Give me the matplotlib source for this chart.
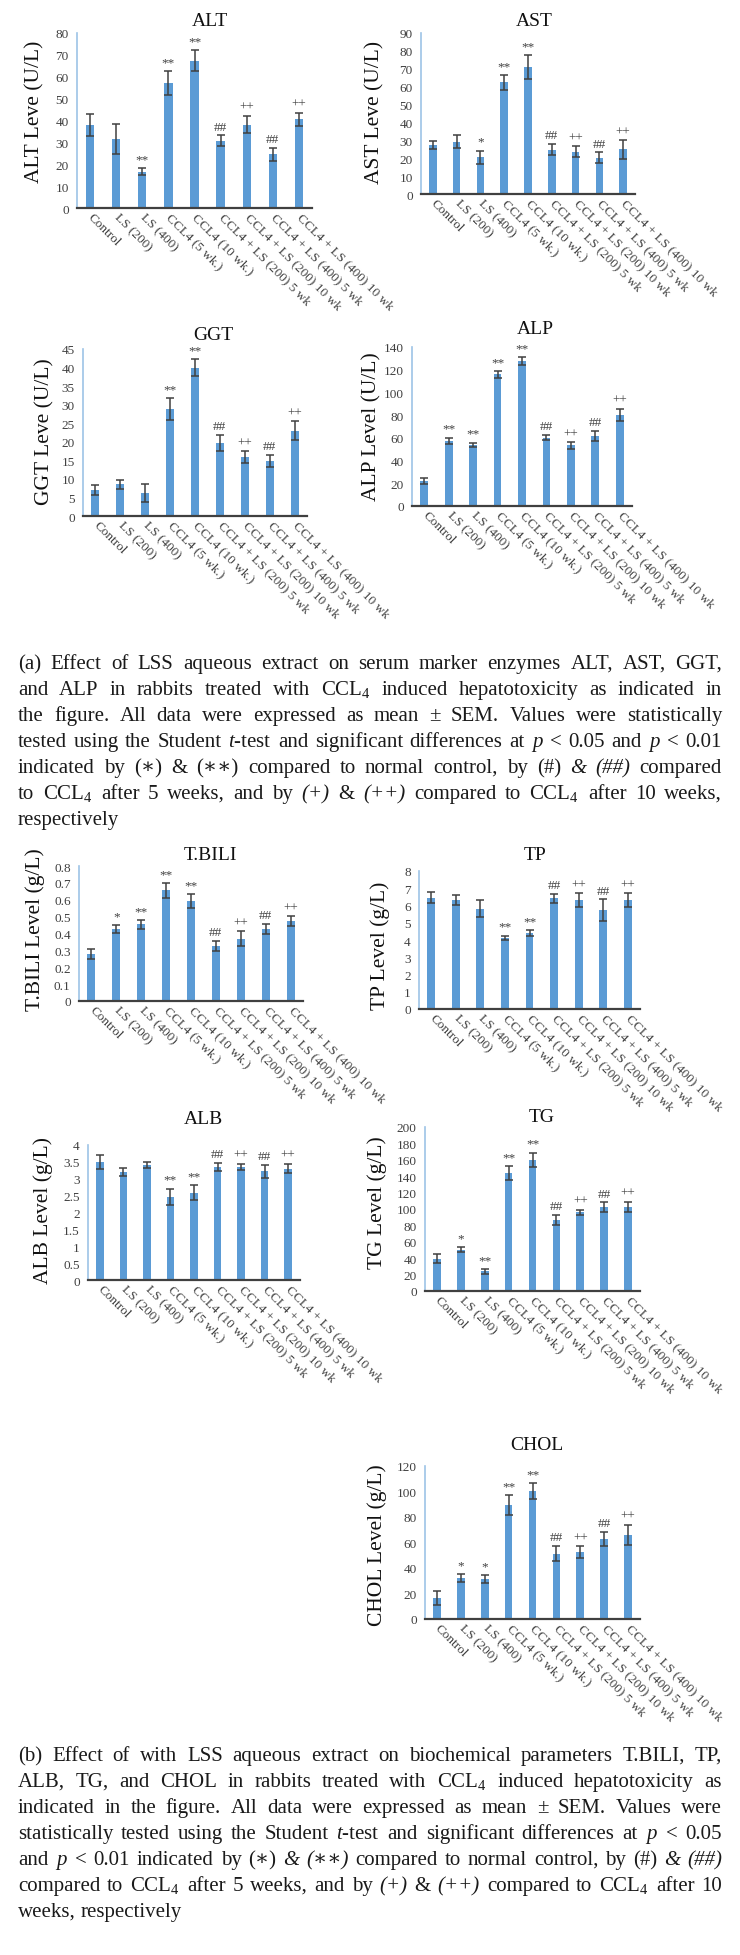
import matplotlib
matplotlib.use("Agg")
import matplotlib.pyplot as plt

plt.rcParams['font.family'] = ['Liberation Serif', 'DejaVu Serif']
plt.rcParams['mathtext.fontset'] = 'custom'
plt.rcParams['mathtext.rm'] = 'Liberation Serif'
plt.rcParams['mathtext.it'] = 'Liberation Serif:italic'

W, H = 740, 1956

# ---------------- data ----------------
groups = ["Control", "LS (200)", "LS (400)", "CCL4 (5 wk.)", "CCL4 (10 wk.)",
          "CCL4 + LS (200) 5 wk", "CCL4 + LS (200) 10 wk",
          "CCL4 + LS (400) 5 wk", "CCL4 + LS (400) 10 wk"]

alt_mean = [38.1, 31.7, 16.6, 57.0, 67.4, 30.8, 38.1, 24.5, 40.5]
alt_sem = [5.0, 6.8, 1.6, 5.5, 4.7, 2.4, 4.0, 3.0, 3.0]
alt_sig = ["", "", "**", "**", "**", "##", "++", "##", "++"]
alt_ticks = [0, 10, 20, 30, 40, 50, 60, 70, 80]

ast_mean = [27.4, 29.3, 20.5, 62.4, 70.8, 24.8, 23.7, 20.2, 25.0]
ast_sem = [2.0, 3.5, 3.8, 4.3, 6.7, 3.2, 3.0, 3.1, 5.2]
ast_sig = ["", "", "*", "**", "**", "##", "++", "##", "++"]
ast_ticks = [0, 10, 20, 30, 40, 50, 60, 70, 80, 90]

ggt_mean = [7.0, 8.6, 6.3, 28.9, 40.0, 19.7, 15.8, 14.8, 23.0]
ggt_sem = [1.3, 1.2, 2.4, 2.9, 2.3, 2.1, 1.6, 1.7, 2.6]
ggt_sig = ["", "", "", "**", "**", "##", "++", "##", "++"]
ggt_ticks = [0, 5, 10, 15, 20, 25, 30, 35, 40, 45]

alp_mean = [21.7, 57.4, 53.9, 116.0, 127.7, 60.3, 53.3, 61.8, 80.3]
alp_sem = [2.6, 2.9, 2.0, 3.0, 3.8, 2.6, 3.0, 4.4, 5.2]
alp_sig = ["", "**", "**", "**", "**", "##", "++", "##", "++"]
alp_ticks = [0, 20, 40, 60, 80, 100, 120, 140]

tbili_mean = [0.28, 0.425, 0.454, 0.656, 0.593, 0.326, 0.369, 0.429, 0.474]
tbili_sem = [0.03, 0.024, 0.028, 0.043, 0.041, 0.028, 0.044, 0.03, 0.028]
tbili_sig = ["", "*", "**", "**", "**", "##", "++", "##", "++"]
tbili_ticks = [0, 0.1, 0.2, 0.3, 0.4, 0.5, 0.6, 0.7, 0.8]

tp_mean = [6.45, 6.34, 5.81, 4.13, 4.42, 6.43, 6.32, 5.72, 6.32]
tp_sem = [0.33, 0.29, 0.49, 0.13, 0.17, 0.26, 0.39, 0.64, 0.39]
tp_sig = ["", "", "", "**", "**", "##", "++", "##", "++"]
tp_ticks = [0, 1, 2, 3, 4, 5, 6, 7, 8]

alb_mean = [3.5, 3.2, 3.41, 2.46, 2.59, 3.35, 3.35, 3.22, 3.30]
alb_sem = [0.2, 0.13, 0.1, 0.25, 0.22, 0.13, 0.1, 0.2, 0.14]
alb_sig = ["", "", "", "**", "**", "##", "++", "##", "++"]
alb_ticks = [0, 0.5, 1, 1.5, 2, 2.5, 3, 3.5, 4]

tg_mean = [39.3, 50.6, 23.9, 143.8, 160.0, 87.1, 96.0, 102.5, 102.5]
tg_sem = [5.3, 2.9, 3.2, 8.1, 8.9, 6.1, 3.2, 5.6, 6.5]
tg_sig = ["", "*", "**", "**", "**", "##", "++", "##", "++"]
tg_ticks = [0, 20, 40, 60, 80, 100, 120, 140, 160, 180, 200]

chol_mean = [16.2, 32.2, 31.4, 89.1, 100.3, 51.3, 52.4, 62.9, 65.8]
chol_sem = [5.5, 3.2, 3.4, 7.8, 6.3, 5.8, 4.7, 5.7, 8.1]
chol_sig = ["", "*", "*", "**", "**", "##", "++", "##", "++"]
chol_ticks = [0, 20, 40, 60, 80, 100, 120]

titles = ["ALT", "AST", "GGT", "ALP", "T.BILI", "TP", "ALB", "TG", "CHOL"]
ylabels = ["ALT Leve (U/L)", "AST Leve (U/L)", "GGT Leve (U/L)", "ALP Level (U/L)",
           "T.BILI Level (g/L)", "TP Level (g/L)", "ALB Level (g/L)",
           "TG Level (g/L)", "CHOL Level (g/L)"]

caption_a = [
    "(a) Effect of LSS aqueous extract on serum marker enzymes ALT, AST, GGT,",
    "and ALP in rabbits treated with CCL$_4$ induced hepatotoxicity as indicated in",
    "the figure. All data were expressed as mean ± SEM. Values were statistically",
    "tested using the Student $t$-test and significant differences at $p$ < 0.05 and $p$ < 0.01",
    "indicated by (∗) & (∗∗) compared to normal control, by (#) {&} {(##)} compared",
    "to CCL$_4$ after 5 weeks, and by {(+)} & {(++)} compared to CCL$_4$ after 10 weeks,",
    "respectively",
]
caption_b = [
    "(b) Effect of with LSS aqueous extract on biochemical parameters T.BILI, TP,",
    "ALB, TG, and CHOL in rabbits treated with CCL$_4$ induced hepatotoxicity as",
    "indicated in the figure. All data were expressed as mean ± SEM. Values were",
    "statistically tested using the Student $t$-test and significant differences at $p$ < 0.05",
    "and $p$ < 0.01 indicated by (∗) {&} {(∗∗)} compared to normal control, by (#) {&} {(##)}",
    "compared to CCL$_4$ after 5 weeks, and by {(+)} & {(++)} compared to CCL$_4$ after 10",
    "weeks, respectively",
]

# ---------------- layout (pixels) ----------------
layout = [
    # box (left, top, right, bottom), title centre, ylabel centre
    dict(box=(77, 34, 312, 209), tpos=(210, 22), ypos=(35, 112)),
    dict(box=(421, 34, 635, 195), tpos=(534, 22), ypos=(375, 112)),
    dict(box=(83, 350, 307, 517), tpos=(213, 335), ypos=(45, 432)),
    dict(box=(412, 348, 632, 507), tpos=(535, 329), ypos=(372, 427)),
    dict(box=(79, 867, 303, 1002), tpos=(210, 855), ypos=(35, 930)),
    dict(box=(419, 872, 640, 1010), tpos=(535, 855), ypos=(380, 946)),
    dict(box=(88, 1146, 300, 1281), tpos=(203, 1120), ypos=(43, 1211)),
    dict(box=(425, 1128, 640, 1292), tpos=(542, 1118), ypos=(377, 1203)),
    dict(box=(425, 1467, 640, 1620), tpos=(537, 1445), ypos=(377, 1545)),
]

series = [
    (alt_mean, alt_sem, alt_sig, alt_ticks),
    (ast_mean, ast_sem, ast_sig, ast_ticks),
    (ggt_mean, ggt_sem, ggt_sig, ggt_ticks),
    (alp_mean, alp_sem, alp_sig, alp_ticks),
    (tbili_mean, tbili_sem, tbili_sig, tbili_ticks),
    (tp_mean, tp_sem, tp_sig, tp_ticks),
    (alb_mean, alb_sem, alb_sig, alb_ticks),
    (tg_mean, tg_sem, tg_sig, tg_ticks),
    (chol_mean, chol_sem, chol_sig, chol_ticks),
]

BAR = '#5B9BD5'
DARK = '#404040'

fig = plt.figure(figsize=(W / 100, H / 100), dpi=100)
fig.patch.set_facecolor('white')

for (mean, sem, sig, ticks), title, ylab, lay in zip(series, titles, ylabels, layout):
    l, t, r, b = lay['box']
    ax = fig.add_axes([l / W, 1 - b / H, (r - l) / W, (b - t) / H])
    x = list(range(len(groups)))
    ax.bar(x, mean, width=0.32, color=BAR, zorder=2)
    ax.errorbar(x, mean, yerr=sem, fmt='none', ecolor=DARK, elinewidth=1.1,
                capsize=2.6, capthick=1.1, zorder=3)
    for i, s in enumerate(sig):
        if s:
            ax.annotate(s, (i, mean[i] + sem[i]), xytext=(0, 2),
                        textcoords='offset points', ha='center', va='bottom',
                        fontsize=9.5, color=DARK, annotation_clip=False)
    ax.set_xlim(-0.5, len(groups) - 0.5)
    ax.set_ylim(ticks[0], ticks[-1])
    ax.set_yticks(ticks)
    ax.set_yticklabels([f"{v:g}" for v in ticks], fontsize=9.5, color=DARK)
    ax.set_xticks(x)
    ax.set_xticklabels(groups, rotation=-45, ha='left', va='center',
                       rotation_mode='anchor', fontsize=9.5, color=DARK)
    ax.tick_params(axis='both', length=0)
    ax.tick_params(axis='y', pad=6)
    ax.tick_params(axis='x', pad=5)
    for sp in ('top', 'right'):
        ax.spines[sp].set_visible(False)
    ax.spines['left'].set_color('#9DC3E6')
    ax.spines['left'].set_linewidth(1.2)
    ax.spines['bottom'].set_color(DARK)
    ax.spines['bottom'].set_linewidth(1.6)
    ax.patch.set_alpha(0)
    tx, ty = lay['tpos']
    ax.set_title(title, x=(tx - l) / (r - l), y=(b - ty) / (b - t), va='center',
                 pad=0, fontsize=14, color='#111111')
    yx, yy = lay['ypos']
    ax.set_ylabel(ylab, fontsize=15.5, va='center', color='#111111')
    ax.yaxis.set_label_coords(yx / W, 1 - yy / H, transform=fig.transFigure)

# ---------------- justified captions ----------------
renderer = fig.canvas.get_renderer()
FAM = ['Liberation Serif', 'DejaVu Serif']


def draw_caption(lines, x0, x1, y0, dy, fs):
    avail = x1 - x0
    for k, line in enumerate(lines):
        yb = y0 + k * dy + 6
        toks = []
        for w in line.split(' '):
            if w.startswith('{') and w.endswith('}'):
                toks.append((w[1:-1], 'italic'))
            else:
                toks.append((w, 'normal'))
        texts = [fig.text(0, 1 - yb / H, s, fontsize=fs, style=st, family=FAM,
                          ha='left', va='baseline', color='#1a1a1a')
                 for s, st in toks]
        widths = [tt.get_window_extent(renderer).width for tt in texts]
        last = (k == len(lines) - 1)
        n = len(texts)
        min_gap = 0.18 * fs * 100 / 72
        if not last and sum(widths) + min_gap * (n - 1) > avail:
            scale = (avail - min_gap * (n - 1)) / sum(widths)
            for tt in texts:
                tt.set_fontsize(fs * scale)
            widths = [tt.get_window_extent(renderer).width for tt in texts]
        if last or n == 1:
            gap = 0.25 * fs * 100 / 72
        else:
            gap = (avail - sum(widths)) / (n - 1)
        xp = x0
        for tt, w in zip(texts, widths):
            tt.set_x(xp / W)
            xp += w + gap


draw_caption(caption_a, 18, 722, 663, 26, 15)
draw_caption(caption_b, 18, 722, 1755, 26, 15)

fig.savefig('out.png', dpi=100, facecolor='white')
